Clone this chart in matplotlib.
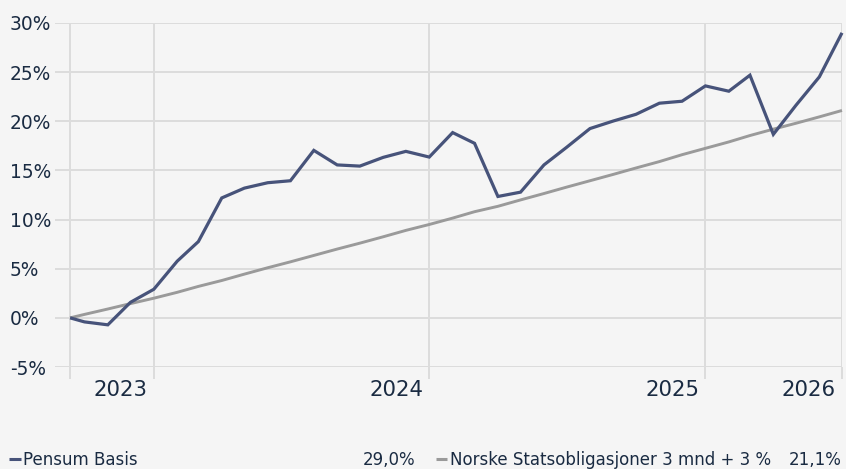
import matplotlib
matplotlib.use("Agg")
import matplotlib.pyplot as plt
from matplotlib.lines import Line2D
from matplotlib.transforms import ScaledTranslation
import pandas as pd

# ---- data ----
start_date = "2022-09-11"
dates = pd.DatetimeIndex([pd.Timestamp(start_date)]).append(
    pd.date_range("2022-09-30", periods=34, freq="ME"))

pensum_basis = [0.0, -0.41, -0.71, 1.58, 2.91, 5.77, 7.76, 12.2, 13.2, 13.75,
                13.95, 17.04, 15.56, 15.44, 16.33, 16.94, 16.36, 18.85, 17.76,
                12.35, 12.79, 15.56, 17.35, 19.26, 20.03, 20.71, 21.84, 22.04,
                23.6, 23.06, 24.69, 18.67, 21.63, 24.52, 29.0]
statsoblig = [0.0, 0.35, 0.9, 1.45, 2.0, 2.6, 3.2, 3.8, 4.45, 5.1, 5.7, 6.35,
              7.0, 7.6, 8.25, 8.9, 9.5, 10.15, 10.8, 11.35, 12.0, 12.65, 13.3,
              13.95, 14.6, 15.25, 15.9, 16.6, 17.25, 17.9, 18.55, 19.2, 19.8,
              20.45, 21.1]

series_names = ["Pensum Basis", "Norske Statsobligasjoner 3 mnd + 3 %"]
series_totals = ["29,0%", "21,1%"]
tick_dates = ["2022-12-31", "2023-12-31", "2024-12-31", "2025-06-30"]
tick_labels = ["2023", "2024", "2025", "2026"]
y_ticks = [-5, 0, 5, 10, 15, 20, 25, 30]

# ---- style ----
BG = "#f5f5f5"
GRID = "#dcdcdc"
BLUE = "#47537a"
GRAY = "#9a9a9a"
TXT = "#1a2b42"
W, H, DPI = 846, 469, 100

fig = plt.figure(figsize=(W / DPI, H / DPI), dpi=DPI, facecolor=BG)
ax = fig.add_axes([55 / W, (H - 367) / H, (842 - 55) / W, (367 - 23) / H])
ax.set_facecolor(BG)

ax.plot(dates, statsoblig, color=GRAY, lw=2.1, solid_capstyle="butt",
        solid_joinstyle="miter", clip_on=False, zorder=3)
ax.plot(dates, pensum_basis, color=BLUE, lw=2.3, solid_capstyle="butt",
        solid_joinstyle="miter", clip_on=False, zorder=4)

ax.set_ylim(-5, 30)
ax.set_xlim(pd.Timestamp(start_date) - pd.Timedelta(days=20), dates[-1])

for s in ax.spines.values():
    s.set_visible(False)

# y axis
ax.set_yticks(y_ticks)
ax.set_yticklabels([f"{v}%" for v in y_ticks], fontsize=13.4,
                   family="DejaVu Sans", color=TXT)
ax.tick_params(axis="y", length=0, pad=45 * 0.72)
for lab in ax.get_yticklabels():
    lab.set_horizontalalignment("left")

# x axis
xt = [dates[0]] + [pd.Timestamp(d) for d in tick_dates]
ax.set_xticks(xt)
ax.set_xticklabels([""] + tick_labels, fontsize=15.3,
                   family="DejaVu Sans", color=TXT)
ax.tick_params(axis="x", length=12 * 0.72, width=1.4, color=GRID,
               direction="out", pad=1.0)
off = ScaledTranslation(-6 / DPI, 0, fig.dpi_scale_trans)
for lab in ax.get_xticklabels():
    lab.set_horizontalalignment("right")
    lab.set_transform(lab.get_transform() + off)

ax.grid(True, color=GRID, lw=1.4, zorder=0)
ax.set_axisbelow(True)

# legend row
ly = (H - 459) / H
by = (H - 464.5) / H
fs = 12
fam = "DejaVu Sans"
fig.add_artist(Line2D([9 / W, 21 / W], [ly, ly], color=BLUE, lw=2.2,
                      solid_capstyle="butt"))
fig.text(23 / W, by, series_names[0], fontsize=fs, family=fam,
         color=TXT, ha="left", va="baseline")
fig.text(415 / W, by, series_totals[0], fontsize=fs, family=fam,
         color=TXT, ha="right", va="baseline")
fig.add_artist(Line2D([436 / W, 447 / W], [ly, ly], color=GRAY, lw=2.2,
                      solid_capstyle="butt"))
fig.text(450 / W, by, series_names[1], fontsize=fs, family=fam,
         color=TXT, ha="left", va="baseline")
fig.text(842 / W, by, series_totals[1], fontsize=fs, family=fam,
         color=TXT, ha="right", va="baseline")

fig.savefig("out.png", dpi=DPI, facecolor=BG)
